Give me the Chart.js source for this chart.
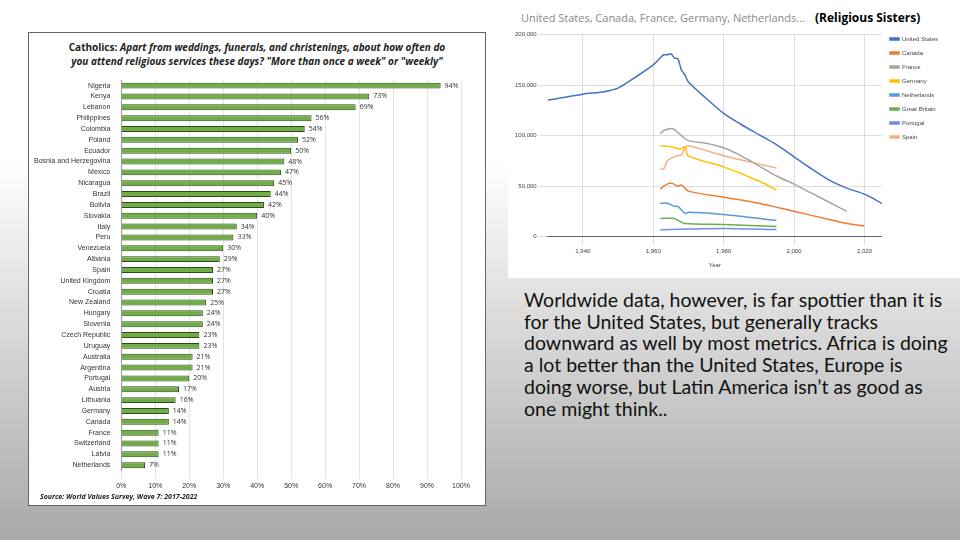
<!DOCTYPE html>
<html><head><meta charset="utf-8">
<script src="https://cdn.jsdelivr.net/npm/chart.js@4"></script>
<style>
body{margin:0;width:960px;height:540px;overflow:hidden;background:linear-gradient(#fff 0%,#fff 30%,#a9a9a9 100%);font-family:"Open Sans",sans-serif;position:relative}
#leftBox{position:absolute;left:28px;top:32px;width:458px;height:474px;background:#fff;border:1px solid #666;box-sizing:border-box}
#leftTitle{position:absolute;left:0;top:7px;width:100%;text-align:center;font-size:10px;font-weight:bold;line-height:14px;color:#222}
#src{position:absolute;left:11px;bottom:4px;font-size:7px;font-weight:bold;font-style:italic;color:#222}
#rightBox{position:absolute;left:508px;top:0;width:452px;height:278px;background:#fff}
#rTitle{position:absolute;left:13px;top:10px;font-size:11px;color:#888}
#rTitle2{position:absolute;left:307px;top:9px;font-size:12px;font-weight:bold;color:#000}
#note{position:absolute;left:524px;top:289px;width:428px;font-family:Lato,sans-serif;font-size:19.5px;line-height:21.7px;color:#111}
</style></head><body>
<div id="leftBox">
<div id="leftTitle">Catholics: <i>Apart from weddings, funerals, and christenings, about how often do<br>you attend religious services these days? "More than once a week" or "weekly"</i></div>
<canvas id="bar" width="452" height="420" style="position:absolute;left:2px;top:40px"></canvas>
<div id="src">Source: World Values Survey, Wave 7: 2017-2022</div>
</div>
<div id="rightBox">
<div id="rTitle">United States, Canada, France, Germany, Netherlands...</div>
<div id="rTitle2">(Religious Sisters)</div>
<canvas id="line" width="450" height="245" style="position:absolute;left:0;top:28px"></canvas>
</div>
<div id="note">Worldwide data, however, is far spottier than it is for the United States, but generally tracks downward as well by most metrics. Africa is doing a lot better than the United States, Europe is doing worse, but Latin America isn’t as good as one might think..</div>
<script>
const countries=["Nigeria","Kenya","Lebanon","Philippines","Colombia","Poland","Ecuador","Bosnia and Herzegovina","Mexico","Nicaragua","Brazil","Bolivia","Slovakia","Italy","Peru","Venezuela","Albania","Spain","United Kingdom","Croatia","New Zealand","Hungary","Slovenia","Czech Republic","Uruguay","Australia","Argentina","Portugal","Austria","Lithuania","Germany","Canada","France","Switzerland","Latvia","Netherlands"];
const weekly=[94,73,69,56,54,52,50,48,47,45,44,42,40,34,33,30,29,27,27,27,25,24,24,23,23,21,21,20,17,16,14,14,11,11,11,7];

const usYears=[1930,1940,1945,1948,1950,1955,1960,1962,1963,1964,1965,1966,1967,1968,1969,1970,1975,1980,1985,1990,1995,2000,2005,2010,2015,2020,2025];
const usVals=[135000,141000,143000,145000,147000,158000,170000,177000,180000,180000,181000,177000,176000,165000,160000,153000,137000,122000,111000,101000,91000,79000,67000,56000,48000,42000,33000];
const caYears=[1962,1963,1965,1967,1968,1970,1980,1990,2000,2010,2015,2020];
const caVals=[47000,50000,53000,50000,51000,45000,39000,33000,25000,17000,13000,10500];
const frYears=[1962,1963,1965,1966,1968,1970,1975,1980,1985,1990,1995,2000,2005,2010,2015];
const frVals=[102000,105000,107000,106000,100000,95000,92500,88000,80000,70000,60000,52000,43000,34000,25000];
const deYears=[1962,1965,1967,1968,1969,1970,1980,1990,1995];
const deVals=[90000,89000,87000,87000,89000,80000,69000,55000,46000];
const nlYears=[1962,1964,1966,1967,1969,1970,1980,1995];
const nlVals=[33000,33000,30000,30000,23000,24000,22000,16000];
const gbYears=[1962,1966,1967,1969,1980,1995];
const gbVals=[18000,18000,16000,13000,12000,10000];
const ptYears=[1962,1965,1970,1980,1995];
const ptVals=[6500,7000,7500,8000,7000];
const esYears=[1962,1963,1964,1966,1967,1968,1969,1970,1980,1995];
const esVals=[67000,67000,75000,79000,80000,81000,88000,90000,80000,68000];

const pts=(xs,ys)=>xs.map((x,i)=>({x:x,y:ys[i]}));

const valLabels={id:'valLabels',afterDatasetsDraw(c){
  const ctx=c.ctx;ctx.save();ctx.font='7px "Open Sans"';ctx.fillStyle='#333';ctx.textBaseline='middle';
  c.getDatasetMeta(0).data.forEach((b,i)=>ctx.fillText(weekly[i]+'%',b.x+4,b.y));ctx.restore();}};

new Chart(document.getElementById('bar'),{type:'bar',
  data:{labels:countries,datasets:[{data:weekly,backgroundColor:'#70ad47',borderColor:'#2e4a1e',borderWidth:1,barPercentage:0.55,categoryPercentage:1}]},
  options:{indexAxis:'y',responsive:false,animation:false,
    layout:{padding:{right:22,bottom:0}},
    plugins:{legend:{display:false},tooltip:{enabled:false}},
    scales:{x:{min:0,max:100,ticks:{stepSize:10,maxRotation:0,callback:v=>v+'%',font:{size:7},color:'#333'},grid:{color:'#e3e3e3'},border:{display:false}},
      y:{ticks:{font:{size:7},color:'#333',autoSkip:false},grid:{display:false},border:{color:'#999'}}}},
  plugins:[valLabels]});

const cols=['#4472c4','#ed7d31','#a5a5a5','#ffc000','#5b9bd5','#70ad47','#6f8fe8','#f4b183'];
const names=['United States','Canada','France','Germany','Netherlands','Great Britain','Portugal','Spain'];
const series=[pts(usYears,usVals),pts(caYears,caVals),pts(frYears,frVals),pts(deYears,deVals),pts(nlYears,nlVals),pts(gbYears,gbVals),pts(ptYears,ptVals),pts(esYears,esVals)];
new Chart(document.getElementById('line'),{type:'line',
  data:{datasets:series.map((d,i)=>({label:names[i],data:d,borderColor:cols[i],backgroundColor:cols[i],borderWidth:1.5,pointRadius:0,tension:0.3}))},
  options:{responsive:false,animation:false,layout:{padding:{left:4,right:10}},
    plugins:{tooltip:{enabled:false},legend:{position:'right',align:'start',labels:{boxWidth:9,boxHeight:2,font:{size:6},color:'#444',padding:8}}},
    scales:{x:{type:'linear',min:1930,max:2025,ticks:{maxRotation:0,font:{size:6},color:'#444'},afterBuildTicks:a=>{a.ticks=[1940,1960,1980,2000,2020].map(v=>({value:v}));},
      title:{display:true,text:'Year',font:{size:6},color:'#444'},grid:{color:'#ddd'},border:{color:'#666'}},
      y:{min:0,max:200000,ticks:{stepSize:50000,font:{size:6},color:'#444',callback:v=>v.toLocaleString('en-US')},grid:{color:'#ddd'},border:{display:false}}}}});
</script>
</body></html>
